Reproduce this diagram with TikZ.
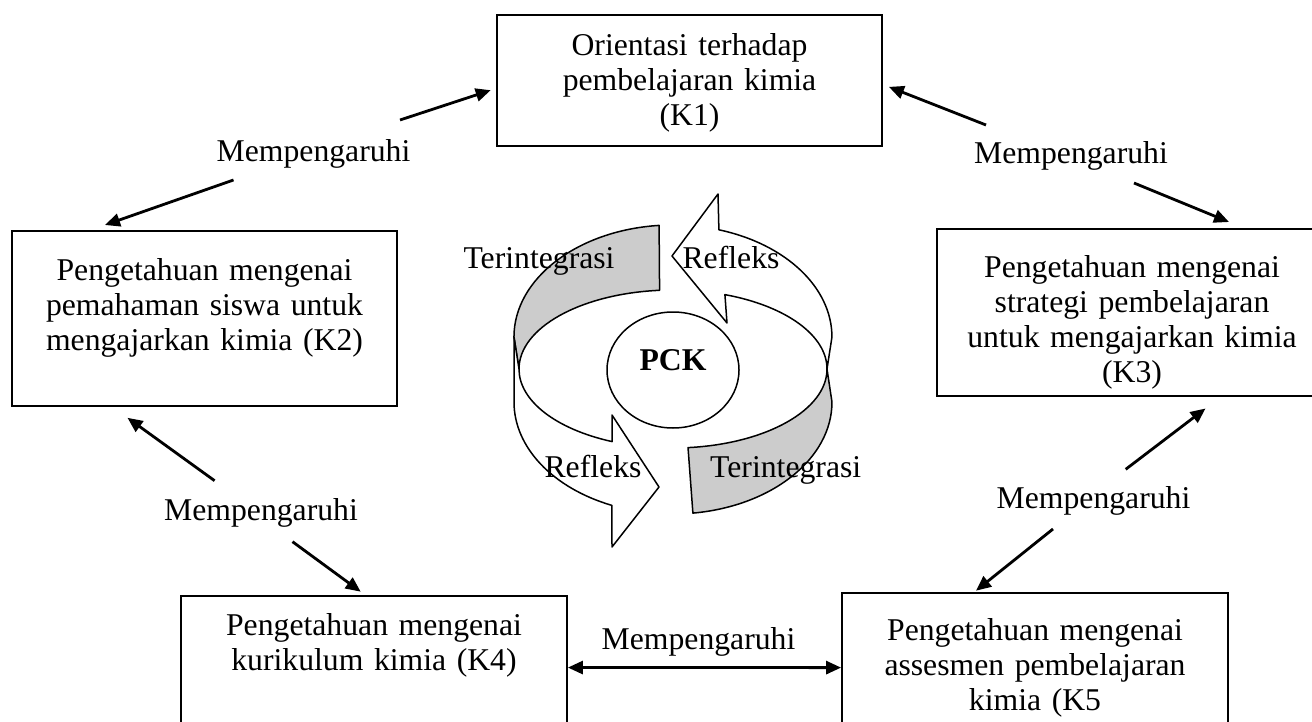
\documentclass[tikz,border=0pt]{standalone}
\usepackage{fontspec}
\setmainfont{Liberation Serif}
\usetikzlibrary{arrows.meta,shapes.geometric}
\definecolor{bandgray}{RGB}{204,204,204}

\tikzset{
  kbox/.style={draw=black, line width=0.9pt, inner sep=0pt, align=center, anchor=north},
  pengaruh/.style={inner sep=0pt},
  arr/.style={line width=1.4pt, -{Triangle[length=7.5pt,width=6.5pt]}},
  darr/.style={line width=1.4pt, {Triangle[length=7.5pt,width=6.5pt]}-{Triangle[length=7.5pt,width=6.5pt]}},
  band/.style={draw=black, line width=0.75pt, line join=round},
  siklus/.style={inner sep=0pt, anchor=base},
}

\begin{document}
\begin{tikzpicture}[x=0.5pt, y=-0.5pt, font=\fontsize{15.85}{17.35}\selectfont]
  \useasboundingbox (0,0) rectangle (1312,722);
  \clip (0,0) rectangle (1312,722);

  % kotak komponen
  \node[kbox, text width=192.5pt, text height=20.5pt, text depth=45pt] (k1) at (689.5,14) {Orientasi terhadap\\pembelajaran kimia\\(K1)};
  \node[kbox, text width=192.5pt, text height=25pt, text depth=62.5pt] (k2) at (204.5,230) {Pengetahuan mengenai\\pemahaman siswa untuk\\mengajarkan kimia (K2)};
  \node[kbox, text width=195pt, text height=24.5pt, text depth=59pt] (k3) at (1132,228) {Pengetahuan mengenai\\strategi pembelajaran\\untuk mengajarkan kimia\\(K3)};
  \node[kbox, text width=193pt, text height=20pt, text depth=51.65pt] (k4) at (374,595) {Pengetahuan mengenai\\kurikulum kimia (K4)};
  \node[kbox, text width=193pt, text height=24pt, text depth=50.7pt] (k5) at (1035,592) {Pengetahuan mengenai\\assesmen pembelajaran\\kimia (K5};

  % label hubungan
  \node[pengaruh] (m12) at (313.5,153.7) {Mempengaruhi};
  \node[pengaruh] (m13) at (1071,155.7) {Mempengaruhi};
  \node[pengaruh] (m24) at (261,512.7) {Mempengaruhi};
  \node[pengaruh] (m35) at (1093.5,500.7) {Mempengaruhi};

  % panah
  \draw[arr] ([shift={(86.5,-33.7)}]m12.center) -- ([shift={(-5.4,9.8)}]k1.west);
  \draw[arr] ([shift={(-80,26.3)}]m12.center) -- ([shift={(-99.5,-5)}]k2.north);
  \draw[arr] ([shift={(-85,-30.7)}]m13.center) -- ([shift={(6,6.5)}]k1.east);
  \draw[arr] ([shift={(63,27.3)}]m13.center) -- ([shift={(97,-6)}]k3.north);
  \draw[arr] ([shift={(-46.4,-32)}]m24.center) -- ([shift={(-77,11)}]k2.south);
  \draw[arr] ([shift={(31.5,29)}]m24.center) -- ([shift={(-13.3,-3.3)}]k4.north);
  \draw[arr] ([shift={(32.2,-31.4)}]m35.center) -- ([shift={(73.5,11.7)}]k3.south);
  \draw[arr] ([shift={(-40.5,28.3)}]m35.center) -- ([shift={(-59,-1.3)}]k5.north);
  \draw[darr] (k4.east) -- node[pengaruh, xshift=-3pt, yshift=13pt] (m45) {Mempengaruhi} (k5.west);

  % siklus PCK
  \filldraw[band, fill=bandgray] (659.1,225.4) arc[start angle=265, end angle=180, x radius=159, y radius=112]
    -- (519,369) arc[start angle=180, end angle=265, x radius=154, y radius=79] -- cycle;
  \filldraw[band, fill=white] (514,337) -- (514,402) arc[start angle=180, end angle=112.6, x radius=159, y radius=112]
    -- (612,547) -- (659,487) -- (612,415) -- (612.1,441.6)
    arc[start angle=113.3, end angle=180, x radius=154, y radius=79] -- cycle;
  \filldraw[band, fill=white] (672,256) -- (718,194) -- (718.9,229.8)
    arc[start angle=286.8, end angle=360, x radius=159, y radius=112]
    -- (827,369) arc[start angle=0, end angle=-70.3, x radius=154, y radius=79]
    -- (727,323) -- cycle;
  \filldraw[band, fill=bandgray] (827,369) arc[start angle=0, end angle=84.4, x radius=154, y radius=79]
    -- (692.9,513.1) arc[start angle=82.8, end angle=0, x radius=159, y radius=112] -- cycle;
  \node[band, fill=white, ellipse, minimum width=66pt, minimum height=58pt, inner sep=0pt,
        text height=10.5pt, text depth=10.5pt] (pck) at (673,370) {\textbf{PCK}};

  \node[siklus] (t1) at (539,268.3) {Terintegrasi};
  \node[siklus] (r1) at (731,268.3) {Refleks};
  \node[siklus] (r2) at (593,477.7) {Refleks};
  \node[siklus] (t2) at (785.7,477.7) {Terintegrasi};
\end{tikzpicture}
\end{document}
